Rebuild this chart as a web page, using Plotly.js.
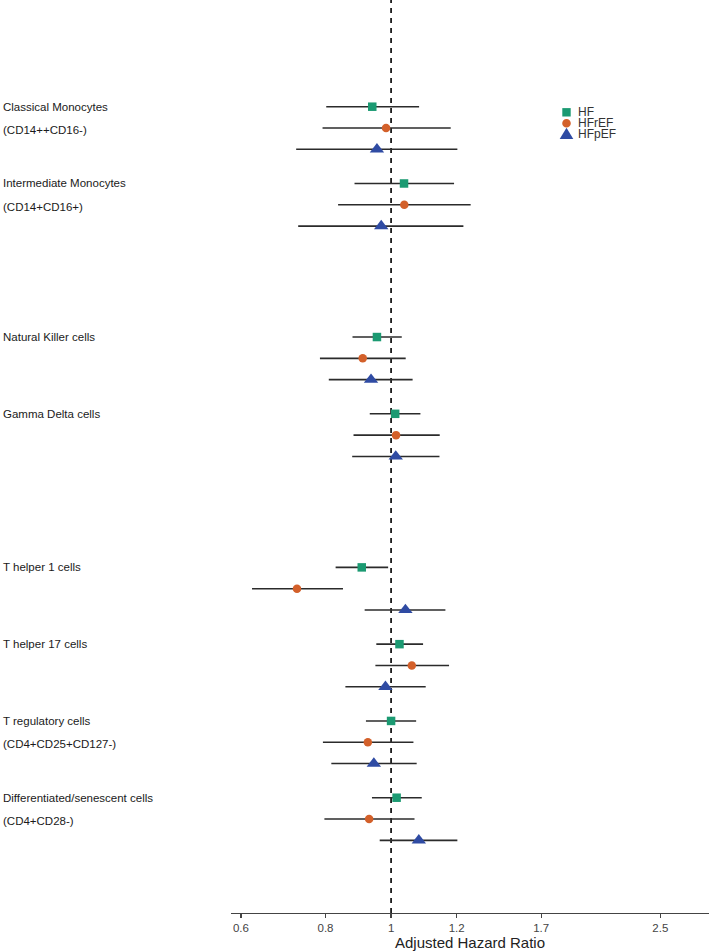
<!DOCTYPE html>
<html>
<head>
<meta charset="utf-8">
<script src="https://cdn.plot.ly/plotly-3.0.1.min.js"></script>
<style>html,body{margin:0;padding:0;background:#fff;}#chart{width:709px;height:952px;}</style>
</head>
<body>
<div id="chart"></div>
<script>
// ---- data ----
const categories = ["Classical Monocytes", "Intermediate Monocytes", "Natural Killer cells", "Gamma Delta cells",
  "T helper 1 cells", "T helper 17 cells", "T regulatory cells", "Differentiated/senescent cells"];
const subtitles = ["(CD14++CD16-)", "(CD14+CD16+)", "", "", "", "", "(CD4+CD25+CD127-)", "(CD4+CD28-)"];
const sectionOf = [0, 0, 1, 1, 2, 2, 2, 2];

const seriesNames = ["HF", "HFrEF", "HFpEF"];
const hf_hr  = [0.938, 1.045, 0.953, 1.014, 0.905, 1.029, 1.000, 1.019];
const hf_lo  = [0.802, 0.883, 0.877, 0.930, 0.828, 0.951, 0.918, 0.937];
const hf_hi  = [1.100, 1.239, 1.037, 1.105, 0.990, 1.115, 1.089, 1.110];
const hfr_hr = [0.983, 1.046, 0.908, 1.017, 0.726, 1.073, 0.924, 0.928];
const hfr_lo = [0.792, 0.835, 0.785, 0.880, 0.623, 0.948, 0.793, 0.797];
const hfr_hi = [1.225, 1.311, 1.051, 1.180, 0.849, 1.218, 1.079, 1.083];
const hfp_hr = [0.953, 0.967, 0.934, 1.016, 1.050, 0.981, 0.943, 1.099];
const hfp_lo = [0.724, 0.729, 0.809, 0.876, 0.914, 0.856, 0.816, 0.962];
const hfp_hi = [1.253, 1.279, 1.076, 1.179, 1.203, 1.125, 1.091, 1.253];

const tickVals = [0.6, 0.8, 1, 1.25, 1 / 0.6, 2.5];
const tickText = ["0.6", "0.8", "1", "1.2", "1.7", "2.5"];

// ---- layout helpers ----
const W = 709, H = 952, ML = 231, MR = 0, MT = 0, MB = 39;
const PW = W - ML - MR, PH = H - MT - MB;
const px = x => (x - ML) / PW;
const py = y => 1 - (y - MT) / PH;

const groupPos = categories.map((c, i) => i + sectionOf[i]);
const rowOffset = [0, 0.2775, 0.555];
const colors = ["#1b9a72", "#d3602a", "#2f4ba3"];
const symbols = ["square", "circle", "triangle-up"];
const sizes = [8.5, 8.5, 12.5];
const hrs = [hf_hr, hfr_hr, hfp_hr], los = [hf_lo, hfr_lo, hfp_lo], his = [hf_hi, hfr_hi, hfp_hi];

const traces = seriesNames.map((name, s) => ({
  type: "scatter", mode: "markers", name: name,
  x: hrs[s],
  y: groupPos.map(p => p + rowOffset[s]),
  error_x: {
    type: "data", symmetric: false,
    array: his[s].map((h, i) => h - hrs[s][i]),
    arrayminus: los[s].map((l, i) => hrs[s][i] - l),
    color: "#2b2b2b", thickness: 1.6, width: 0
  },
  marker: { symbol: symbols[s], size: sizes[s], color: colors[s], line: { width: 0 } },
  showlegend: false, hoverinfo: "skip"
}));

const labelFont = { family: "Liberation Sans, Arial, sans-serif", size: 11.5, color: "#1a1a1a" };
const annotations = [];
categories.forEach((c, i) => {
  annotations.push({ xref: "paper", yref: "y", x: px(1), y: groupPos[i], text: c, showarrow: false,
    xanchor: "left", yanchor: "middle", font: labelFont });
  if (subtitles[i]) annotations.push({ xref: "paper", yref: "y", x: px(1), y: groupPos[i] + 0.3, text: subtitles[i], showarrow: false,
    xanchor: "left", yanchor: "middle", font: labelFont });
});

// custom compact legend
const legY = [112.3, 123.3, 134.3], legX = 566.5;
seriesNames.forEach((n, s) => {
  annotations.push({ xref: "paper", yref: "paper", x: px(577), y: py(legY[s]), text: n, showarrow: false,
    xanchor: "left", yanchor: "middle", borderpad: 0,
    font: { family: "Liberation Sans, Arial, sans-serif", size: 12, color: "#333" } });
});
const shapes = [
  { type: "line", xref: "x", yref: "paper", x0: 1, x1: 1, y0: 0, y1: 1, layer: "below",
    line: { color: "#1a1a1a", width: 1.8, dash: "5px,5px" } },
  { type: "rect", xref: "paper", yref: "paper", x0: px(legX - 4.2), x1: px(legX + 4.2), y0: py(legY[0] + 4.2), y1: py(legY[0] - 4.2),
    fillcolor: colors[0], line: { width: 0 } },
  { type: "circle", xref: "paper", yref: "paper", x0: px(legX - 4.3), x1: px(legX + 4.3), y0: py(legY[1] + 4.3), y1: py(legY[1] - 4.3),
    fillcolor: colors[1], line: { width: 0 } },
  { type: "path", xref: "paper", yref: "paper",
    path: "M" + px(legX - 6.8) + "," + py(legY[2] + 4.8) + " L" + px(legX + 6.8) + "," + py(legY[2] + 4.8) +
          " L" + px(legX) + "," + py(legY[2] - 6.5) + " Z",
    fillcolor: colors[2], line: { width: 0 } }
];

const yTop = -(106.7 - MT) / 76.78, yBot = (MT + PH - 106.7) / 76.78;

const layout = {
  width: W, height: H,
  margin: { l: ML, r: MR, t: MT, b: MB, pad: 0 },
  paper_bgcolor: "#fff", plot_bgcolor: "#fff",
  showlegend: false,
  font: { family: "Liberation Sans, Arial, sans-serif", color: "#333" },
  xaxis: {
    type: "log", range: [Math.log10(0.58), Math.log10(2.95)],
    tickmode: "array", tickvals: tickVals, ticktext: tickText,
    showgrid: false, zeroline: false, showline: true, linecolor: "#444", linewidth: 1.3,
    ticks: "outside", ticklen: 4, tickcolor: "#444", tickwidth: 1.2,
    tickfont: { size: 11.5, color: "#444" },
    title: { text: "Adjusted Hazard Ratio", font: { size: 15, color: "#222" }, standoff: 3 },
    automargin: false, fixedrange: true
  },
  yaxis: {
    range: [yBot, yTop], visible: false, showgrid: false, zeroline: false, fixedrange: true
  },
  annotations: annotations,
  shapes: shapes
};

Plotly.newPlot("chart", traces, layout, { displayModeBar: false, staticPlot: true });
</script>
</body>
</html>
